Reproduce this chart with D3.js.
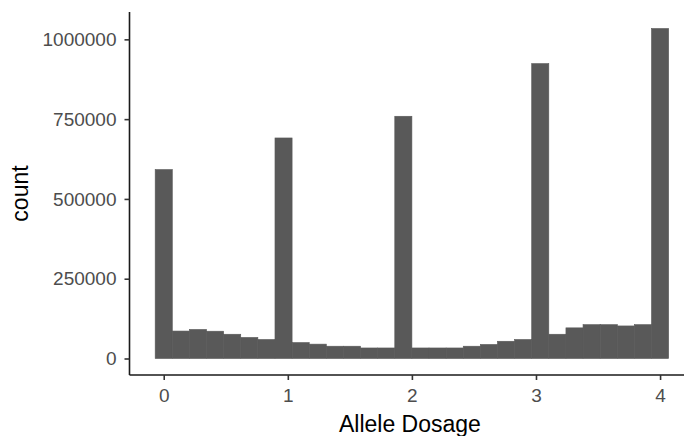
<!DOCTYPE html>
<html>
<head>
<meta charset="utf-8">
<script src="https://cdn.jsdelivr.net/npm/d3@7"></script>
<style>
html,body{margin:0;padding:0;background:#fff;overflow:hidden;}
svg{display:block;font-family:"Liberation Sans",Arial,sans-serif;}
</style>
</head>
<body>
<svg id="chart" width="684" height="436"></svg>
<script>
// Histogram: 30 bins of width 4/29 centered at k*4/29
const binCount = 30;
const binWidth = 4 / 29;
const counts = [
  592000, 86000, 91000, 85500, 76000, 66000, 59500, 691000, 50000, 45000,
  38500, 38500, 33000, 33000, 759000, 33000, 33000, 33000, 38500, 44000,
  54000, 59500, 924000, 76000, 96000, 106000, 106000, 102000, 106000, 1034000
];
const xTicks = [0, 1, 2, 3, 4];
const yTicks = [0, 250000, 500000, 750000, 1000000];
const xTitle = "Allele Dosage";
const yTitle = "count";

const bins = counts.map((c, i) => ({
  x0: i * binWidth - binWidth / 2,
  x1: i * binWidth + binWidth / 2,
  count: c
}));

const svg = d3.select("#chart");
const xMin = -binWidth / 2, xMax = 4 + binWidth / 2;
const xPad = (xMax - xMin) * 0.05;
const x = d3.scaleLinear().domain([xMin - xPad, xMax + xPad]).range([129.5, 694.3]);
const yMax = d3.max(counts);
const y = d3.scaleLinear().domain([-yMax * 0.05, yMax * 1.05]).range([375, 12]);

const fill = "#595959";
svg.append("g").selectAll("rect").data(bins).join("rect")
  .attr("x", d => x(d.x0))
  .attr("width", d => x(d.x1) - x(d.x0))
  .attr("y", d => y(d.count))
  .attr("height", d => y(0) - y(d.count))
  .attr("fill", fill)
  .attr("stroke", fill)
  .attr("stroke-width", 0.6);

// Axes
const xAxis = svg.append("g").attr("transform", `translate(0,${y.range()[0]})`)
  .call(d3.axisBottom(x).tickValues(xTicks).tickFormat(d3.format("d")).tickSize(5).tickPadding(9));
const yAxis = svg.append("g").attr("transform", `translate(${x.range()[0]},0)`)
  .call(d3.axisLeft(y).tickValues(yTicks).tickFormat(d3.format("d")).tickSize(5).tickPadding(8));

[xAxis, yAxis].forEach(g => {
  g.select(".domain").attr("stroke", "#1a1a1a").attr("stroke-width", 1.6);
  g.selectAll(".tick line").attr("stroke", "#333").attr("stroke-width", 1.6);
  g.selectAll(".tick text").attr("fill", "#4D4D4D").style("font-size", "19px");
});
xAxis.select(".domain").attr("d", `M${x.range()[0]},0H${x.range()[1]}`);
yAxis.select(".domain").attr("d", `M0,${y.range()[0]}V${y.range()[1]}`);

svg.append("text")
  .attr("x", (x(xMin - xPad) + x(xMax + xPad)) / 2 - 2)
  .attr("y", 432)
  .attr("text-anchor", "middle")
  .style("font-size", "23px")
  .attr("fill", "#000")
  .text(xTitle);

svg.append("text")
  .attr("transform", `translate(28,${(y.range()[0] + y.range()[1]) / 2}) rotate(-90)`)
  .attr("text-anchor", "middle")
  .style("font-size", "23px")
  .attr("fill", "#000")
  .text(yTitle);
</script>
</body>
</html>
